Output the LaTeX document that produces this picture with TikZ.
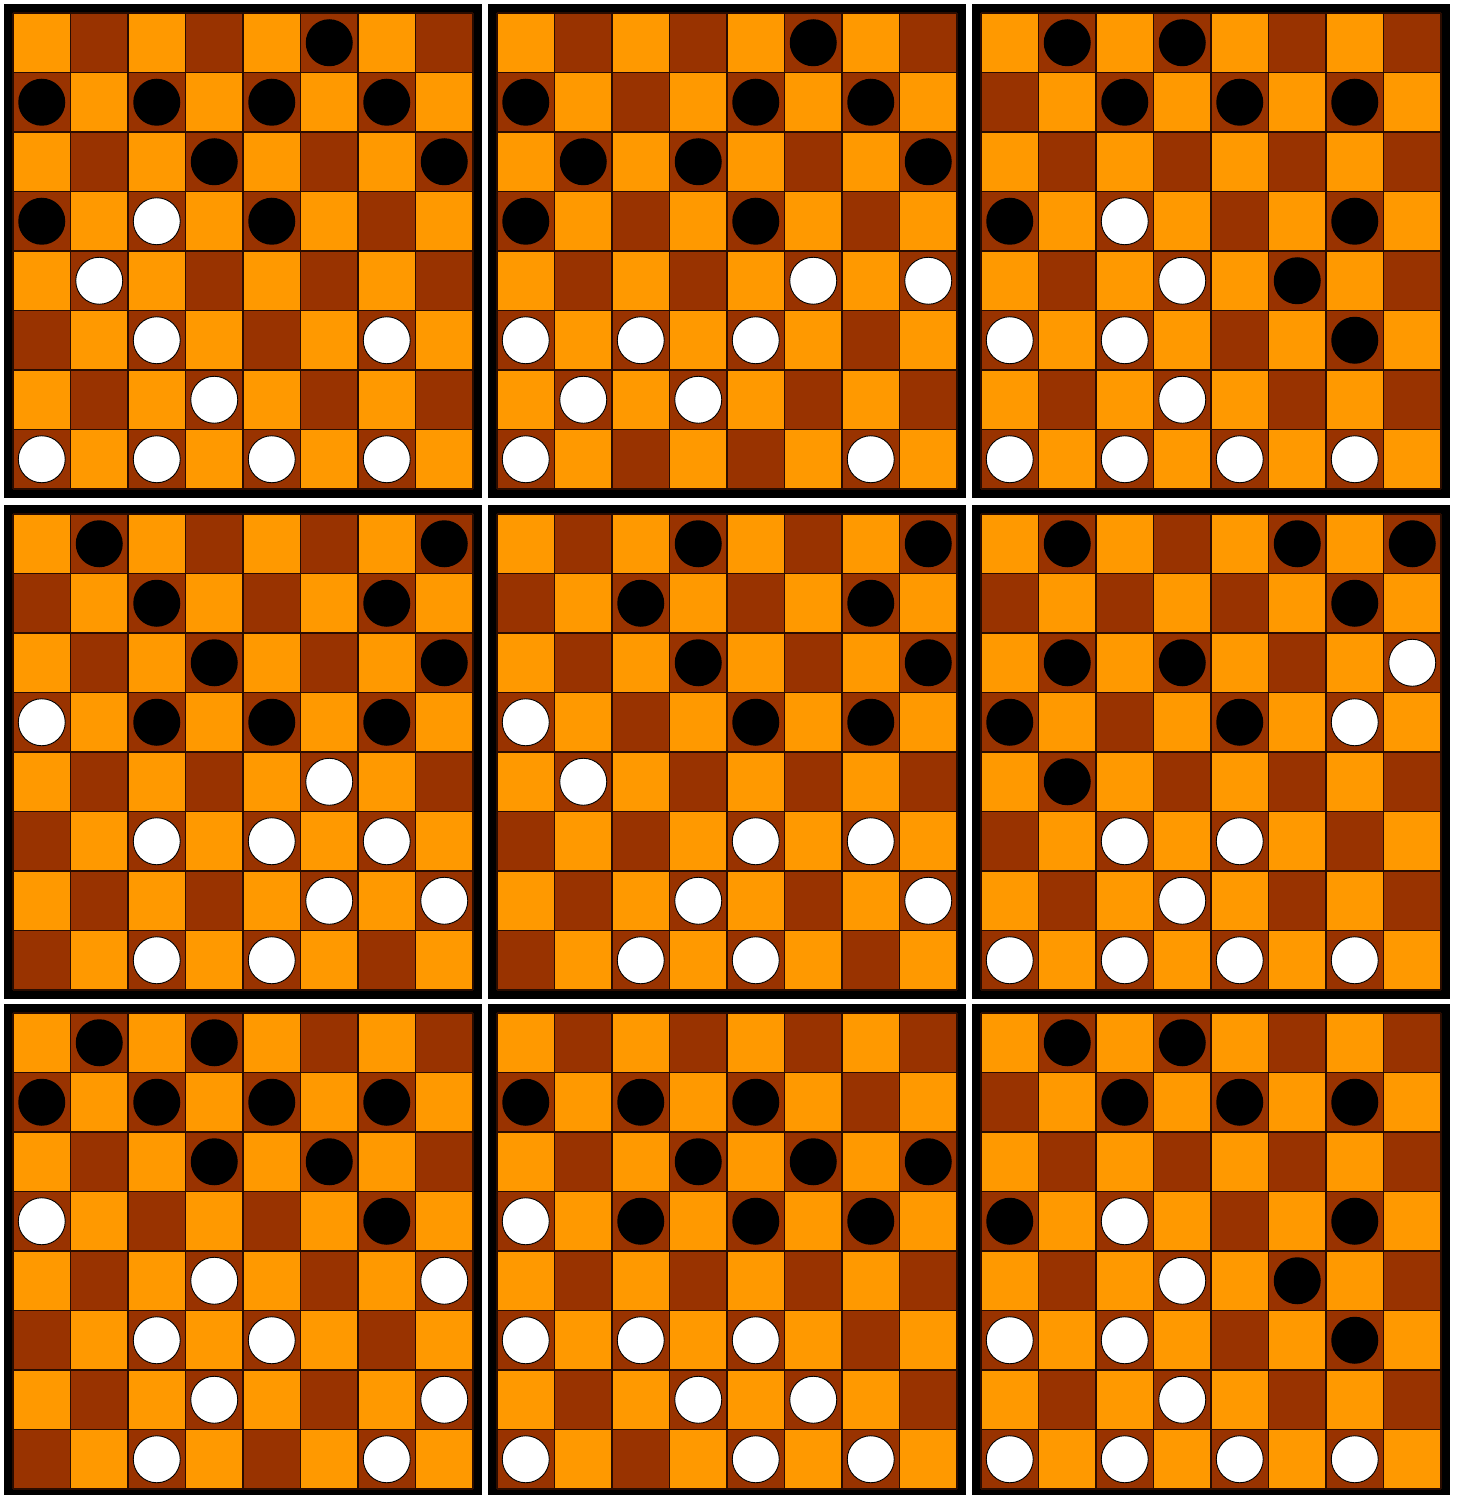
\documentclass[tikz,border=0pt]{standalone}
\usepackage{xcolor}
\usepackage{tikz}
\definecolor{lightsq}{HTML}{FF9900}
\definecolor{darksq}{HTML}{993300}
\definecolor{gridclr}{HTML}{2A0C00}
\newcommand{\cw}{57.5}
\newcommand{\ch}{59.5}
\newcommand{\drawboard}[4]{%
  \begin{scope}[shift={(#1,#2)}]
    \fill[black] (0,0) rectangle (478,494);
    \begin{scope}[shift={(9,9)}]
      \fill[lightsq] (0,0) rectangle (460,476);
      \foreach \rw in {1,...,8}
        \foreach \k in {0,...,3} {
          \pgfmathtruncatemacro{\cl}{2*\k+1+mod(\rw,2)}
          \fill[darksq] ({\cw*(\cl-1)},{\ch*(\rw-1)}) rectangle +(\cw,\ch);
        }
      \foreach \i in {0,...,8} {
        \draw[gridline] ({\cw*\i},0) -- ({\cw*\i},476);
        \draw[gridline] (0,{\ch*\i}) -- (460,{\ch*\i});
      }
      \foreach \rw/\cl in {#3}
        \fill[blackpc] ({\cw*\cl-\cw/2},{\ch*\rw-\ch/2}) circle (23.5pt);
      \foreach \rw/\cl in {#4}
        \filldraw[whitepc] ({\cw*\cl-\cw/2},{\ch*\rw-\ch/2}) circle (23.5pt);
    \end{scope}
  \end{scope}}

\begin{document}
\begin{tikzpicture}[x=1pt,y=-1pt,
    gridline/.style={draw=gridclr,line width=1.1pt},
    blackpc/.style={fill=black},
    whitepc/.style={fill=white,draw=black,line width=0.9pt}]
  \useasboundingbox (0,0) rectangle (1461,1495);
  \clip (0,0) rectangle (1461,1495);
  \fill[white] (0,0) rectangle (1461,1495);
  \drawboard{4}{4}{1/6,2/1,2/3,2/5,2/7,3/4,3/8,4/1,4/5}{4/3,5/2,6/3,6/7,7/4,8/1,8/3,8/5,8/7}
  \drawboard{488}{4}{1/6,2/1,2/5,2/7,3/2,3/4,3/8,4/1,4/5}{5/6,5/8,6/1,6/3,6/5,7/2,7/4,8/1,8/7}
  \drawboard{972}{4}{1/2,1/4,2/3,2/5,2/7,4/1,4/7,5/6,6/7}{4/3,5/4,6/1,6/3,7/4,8/1,8/3,8/5,8/7}
  \drawboard{4}{505}{1/2,1/8,2/3,2/7,3/4,3/8,4/3,4/5,4/7}{4/1,5/6,6/3,6/5,6/7,7/6,7/8,8/3,8/5}
  \drawboard{488}{505}{1/4,1/8,2/3,2/7,3/4,3/8,4/5,4/7}{4/1,5/2,6/5,6/7,7/4,7/8,8/3,8/5}
  \drawboard{972}{505}{1/2,1/6,1/8,2/7,3/2,3/4,4/1,4/5,5/2}{3/8,4/7,6/3,6/5,7/4,8/1,8/3,8/5,8/7}
  \drawboard{4}{1004}{1/2,1/4,2/1,2/3,2/5,2/7,3/4,3/6,4/7}{4/1,5/4,5/8,6/3,6/5,7/4,7/8,8/3,8/7}
  \drawboard{488}{1004}{2/1,2/3,2/5,3/4,3/6,3/8,4/3,4/5,4/7}{4/1,6/1,6/3,6/5,7/4,7/6,8/1,8/5,8/7}
  \drawboard{972}{1004}{1/2,1/4,2/3,2/5,2/7,4/1,4/7,5/6,6/7}{4/3,5/4,6/1,6/3,7/4,8/1,8/3,8/5,8/7}
\end{tikzpicture}
\end{document}
